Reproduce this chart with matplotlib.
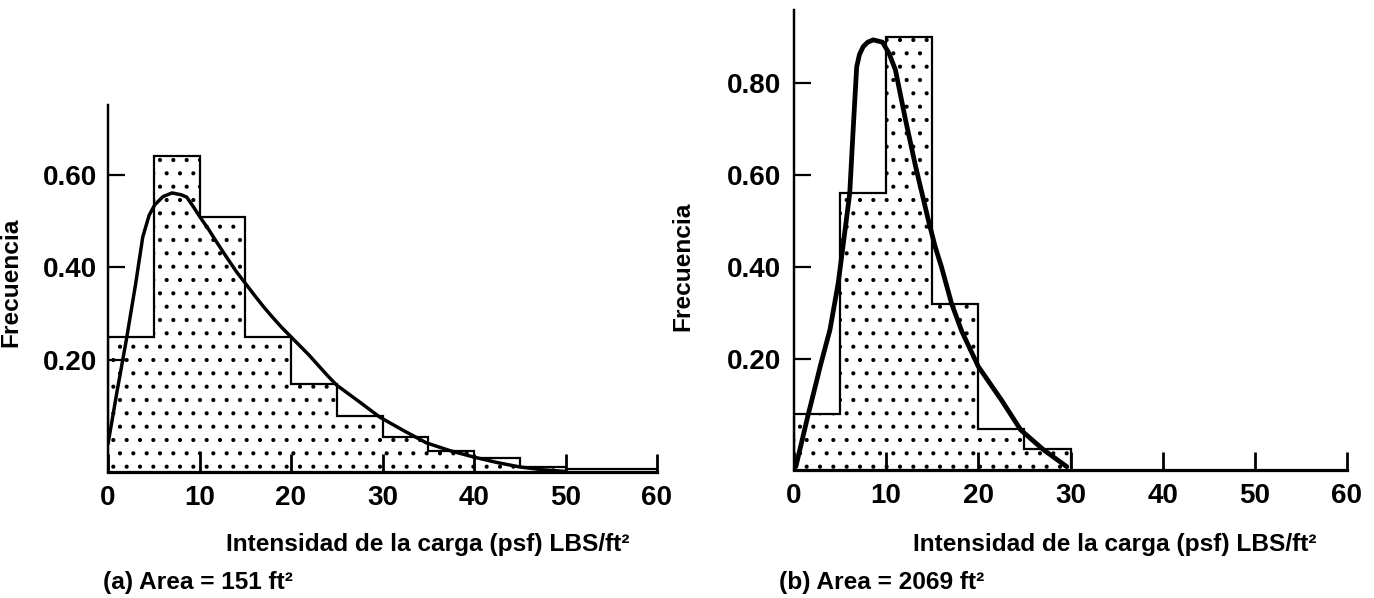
import numpy as np
import matplotlib.pyplot as plt

# histogram bins (psf) and relative frequencies, panel (a) and (b)
edges_a = [0, 5, 10, 15, 20, 25, 30, 35, 40, 45, 50, 55, 60]
freq_a = [0.25, 0.64, 0.51, 0.25, 0.157, 0.10, 0.062, 0.037, 0.025, 0.009, 0.005, 0.005]
edges_b = [0, 5, 10, 15, 20, 25, 30]
freq_b = [0.10, 0.56, 0.90, 0.32, 0.074, 0.038]

# fitted curves, points
curve_a_x = [0, 1, 2, 3, 3.8, 4.5, 5.1, 6, 7, 8, 8.6, 9.3, 10.05, 11, 11.9, 13, 14.1,
             15, 16, 17, 18, 19, 20, 21, 22, 23, 24, 25, 27.5, 29.7, 32.3, 34.8,
             37.4, 39.9, 42.5, 45, 47.5, 50]
curve_a_y = [0.05, 0.145, 0.243, 0.362, 0.466, 0.513, 0.535, 0.553, 0.561, 0.557, 0.552,
             0.532, 0.509, 0.482, 0.454, 0.421, 0.389, 0.366, 0.34, 0.315, 0.292, 0.27,
             0.25, 0.23, 0.21, 0.19, 0.172, 0.155, 0.125, 0.098, 0.074, 0.052, 0.038,
             0.027, 0.017, 0.009, 0.004, 0.001]
curve_b_x = [0.2, 1.4, 2.9, 3.9, 4.8, 5.5, 6.05, 6.4, 6.8, 7.1, 7.5, 8.0, 8.6, 9.6, 10.3,
             11.0, 12.1, 13.2, 14.6, 15.3, 16.0, 17.1, 18.2, 20.0, 22.5, 24.6, 27.1, 29.6]
curve_b_y = [0.006, 0.09, 0.19, 0.263, 0.365, 0.474, 0.561, 0.692, 0.835, 0.862, 0.879,
             0.889, 0.894, 0.889, 0.865, 0.829, 0.72, 0.618, 0.50, 0.445, 0.40, 0.32,
             0.26, 0.186, 0.126, 0.072, 0.036, 0.006]

xticks = [0, 10, 20, 30, 40, 50, 60]
yticks_a = [0.20, 0.40, 0.60]
yticks_b = [0.20, 0.40, 0.60, 0.80]
ylabel = 'Frecuencia'
xlabel = 'Intensidad de la carga (psf) LBS/ft²'
caption_a = '(a) Area = 151 ft²'
caption_b = '(b) Area = 2069 ft²'

SANS = ['Liberation Sans', 'DejaVu Sans']

# 80 dpi gives the stipple ('.' hatch) about the spacing of the printed dots
DPI = 80
plt.rcParams['hatch.linewidth'] = 1.3
plt.rcParams['hatch.color'] = 'black'

# the printed 0 - 0.20 interval is drawn longer than the other intervals
K = 1.21


def fwd(v):
    v = np.asarray(v, dtype=float)
    return np.where(v < 0.2, v * K, v + 0.2 * (K - 1))


def inv(t):
    t = np.asarray(t, dtype=float)
    return np.where(t < 0.2 * K, t / K, t - 0.2 * (K - 1))


W, H = 1374, 598
fig = plt.figure(figsize=(W / DPI, H / DPI), dpi=DPI)


def panel(rect, edges, freq, cx, cy, yticks, ytop, lw_curve, ypad):
    ax = fig.add_axes(rect)
    ax.set_yscale('function', functions=(fwd, inv))
    ax.stairs(freq, edges, fill=True, facecolor='white', edgecolor='black',
              hatch='.', linewidth=0)
    ax.stairs(freq, edges, color='black', linewidth=2)
    ax.plot(cx, cy, color='black', linewidth=lw_curve, solid_capstyle='round',
            solid_joinstyle='round')
    ax.set_xlim(0, 60)
    ax.set_ylim(0, ytop)
    ax.set_xticks(xticks, [str(v) for v in xticks], fontsize=25,
                  fontweight='bold', family=SANS)
    ax.set_yticks(yticks, ['%.2f' % v for v in yticks], fontsize=25,
                  fontweight='bold', family=SANS)
    ax.minorticks_off()
    ax.tick_params(axis='x', direction='in', length=16, width=2.5, pad=12)
    ax.tick_params(axis='y', direction='in', length=15, width=2, pad=ypad)
    for s in ['top', 'right']:
        ax.spines[s].set_visible(False)
    ax.spines['bottom'].set_linewidth(2.9)
    ax.spines['left'].set_linewidth(2.2)
    ax.set_facecolor('none')
    return ax


panel([108 / W, (H - 472) / H, 549 / W, 367 / H], edges_a, freq_a,
      curve_a_x, curve_a_y, yticks_a, 0.751, 3.1, 10)
panel([794 / W, (H - 470) / H, 553 / W, 460 / H], edges_b, freq_b,
      curve_b_x, curve_b_y, yticks_b, 0.959, 4.3, 12)

lab = dict(fontsize=22, fontweight='bold', family=SANS)
fig.text(22 / W, 1 - 282 / H, ylabel, rotation=90, ha='right', va='center', **lab)
fig.text(694 / W, 1 - 266 / H, ylabel, rotation=90, ha='right', va='center', **lab)
fig.text(428 / W, 1 - 545 / H, xlabel, ha='center', va='center', **lab)
fig.text(1115 / W, 1 - 545 / H, xlabel, ha='center', va='center', **lab)
fig.text(103 / W, 1 - 582 / H, caption_a, ha='left', va='center', **lab)
fig.text(779 / W, 1 - 582 / H, caption_b, ha='left', va='center', **lab)

fig.savefig('out.png', dpi=DPI)
